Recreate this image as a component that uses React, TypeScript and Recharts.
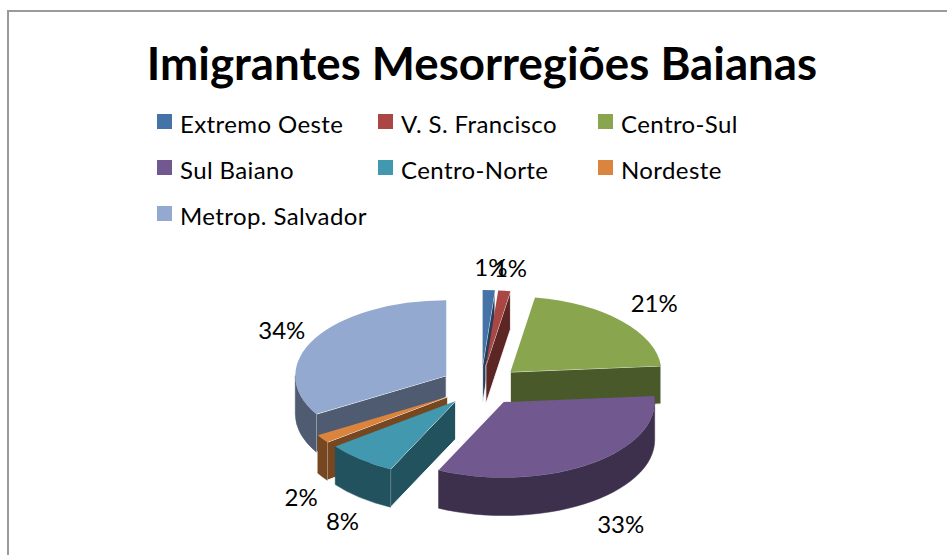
import React from "react";
import { PieChart, Pie, Legend } from "recharts";

const categories = ["Extremo Oeste", "V. S. Francisco", "Centro-Sul", "Sul Baiano", "Centro-Norte", "Nordeste", "Metrop. Salvador"];
const shares = [1.3, 1.3, 21.1, 33.4, 7.6, 1.8, 33.5];
const colors = ["#4572a7", "#aa4643", "#89a54e", "#71588f", "#4198af", "#db843d", "#93a9cf"];
// back-to-front paint order of the slices
const paintOrder = [6, 0, 1, 2, 5, 3, 4];
// hand placement of the percentage labels, as in the original chart
const labelNudgeX = [0, 0, -4, 3, 0, 2, -9];
const labelNudgeY = [-2, -2, -5, -3, 0, 2, 0];

const table = categories.map((name, i) => ({ name, value: shares[i], fill: colors[i] }));

const FONT = "Lato, 'Open Sans', sans-serif";
const SQUASH = 0.5;
const DEPTH = 38;
const EXPLODE = 40;

const shade = (hex: string, f = 0.54) => {
  const n = parseInt(hex.slice(1), 16);
  const c = [(n >> 16) & 255, (n >> 8) & 255, n & 255].map((v) => Math.round(v * f));
  return `rgb(${c[0]},${c[1]},${c[2]})`;
};
const rad = (d: number) => (d * Math.PI) / 180;
const at = (ax: number, ay: number, r: number, t: number) => [ax + r * Math.sin(rad(t)), ay - r * SQUASH * Math.cos(rad(t))];

const apexOf = (cx: number, cy: number, t0: number, t1: number) => at(cx, cy, EXPLODE, (t0 + t1) / 2);

function makeSlice(only: number) {
  return function Slice(props: any) {
    if (props.index !== only) return <g />;
    const { cx, cy, outerRadius: R, startAngle, endAngle, fill } = props;
    const t0 = 90 - startAngle;
    const t1 = 90 - endAngle;
    const [ax, ay] = apexOf(cx, cy, t0, t1);
    const [sx, sy] = at(ax, ay, R, t0);
    const [ex, ey] = at(ax, ay, R, t1);
    const dark = shade(fill);
    const ry = R * SQUASH;
    const large = t1 - t0 > 180 ? 1 : 0;
    const wall = (px: number, py: number) =>
      `M${ax},${ay} L${px},${py} L${px},${py + DEPTH} L${ax},${ay + DEPTH} Z`;
    const lo = Math.max(t0, 90);
    const hi = Math.min(t1, 270);
    let rim = null;
    if (hi > lo) {
      const [lx, ly] = at(ax, ay, R, lo);
      const [hx, hy] = at(ax, ay, R, hi);
      const d = `M${lx},${ly} A${R},${ry} 0 0 1 ${hx},${hy} L${hx},${hy + DEPTH} A${R},${ry} 0 0 0 ${lx},${ly + DEPTH} Z`;
      rim = <path d={d} fill={dark} stroke={dark} strokeWidth={0.5} />;
    }
    const startVisible = Math.sin(rad(t0)) < 0;
    const endVisible = Math.sin(rad(t1)) > 0;
    return (
      <g>
        {startVisible && <path d={wall(sx, sy)} fill={dark} stroke="#fff" strokeWidth={1} />}
        {endVisible && <path d={wall(ex, ey)} fill={dark} stroke="#fff" strokeWidth={0.8} />}
        {rim}
        <path d={`M${ax},${ay} L${sx},${sy} A${R},${ry} 0 ${large} 1 ${ex},${ey} Z`} fill={fill} />
      </g>
    );
  };
}

const renderLabel = (props: any) => {
  const { cx, cy, startAngle, endAngle, outerRadius: R, value, index } = props;
  const t0 = 90 - startAngle;
  const t1 = 90 - endAngle;
  const [ax, ay] = apexOf(cx, cy, t0, t1);
  const mid = (t0 + t1) / 2;
  const c = Math.cos(rad(mid));
  const s = Math.sin(rad(mid));
  const reach = R + (s < 0 ? 28 : 50);
  const x = ax + reach * s + labelNudgeX[index];
  const y = ay - (R + 49) * SQUASH * c + (c < 0 ? 42 : 3) + labelNudgeY[index];
  return (
    <text x={x} y={y} textAnchor="middle" dominantBaseline="central" fontFamily={FONT} fontSize={24} fill="#000">
      {`${Math.round(value)}%`}
    </text>
  );
};

const LegendGrid = () => (
  <div style={{ position: "absolute", left: 157, top: 100, display: "grid", gridTemplateColumns: "221px 220px 220px", gridAutoRows: "46px", fontFamily: FONT, fontSize: 24, letterSpacing: 0.4, color: "#000" }}>
    {table.map((p) => (
      <div key={p.name} style={{ display: "flex", alignItems: "center", whiteSpace: "nowrap" }}>
        <span style={{ width: 15, height: 15, background: p.fill, marginRight: 8, marginTop: -4 }} />
        {p.name}
      </div>
    ))}
  </div>
);

export default function App() {
  return (
    <div style={{ position: "absolute", left: 0, top: 0, width: 947, height: 555, overflow: "hidden", background: "#fff" }}>
      <div style={{ position: "absolute", left: 7, top: 10, width: 960, height: 560, border: "2px solid #9a9a9a" }} />
      <PieChart width={947} height={555} margin={{ top: 0, right: 0, bottom: 0, left: 0 }} style={{ position: "absolute", left: 0, top: 0 }}>
        <text x={482} y={62} textAnchor="middle" dominantBaseline="central" fontFamily={FONT} fontWeight={700} fontSize={45.7} fill="#000">
          Imigrantes Mesorregiões Baianas
        </text>
        <Legend layout="vertical" align="center" verticalAlign="middle" content={<LegendGrid />} wrapperStyle={{ position: "absolute", left: 0, top: 0, width: 0, height: 0 }} />
        {paintOrder.map((idx, n) => {
          const S = makeSlice(idx);
          return (
            <Pie
              key={idx}
              data={table}
              dataKey="value"
              nameKey="name"
              cx={481}
              cy={385.6}
              outerRadius={151}
              startAngle={90}
              endAngle={-270}
              stroke="none"
              shape={S}
              inactiveShape={S}
              isAnimationActive={false}
              legendType={n === 0 ? "square" : "none"}
              label={n === paintOrder.length - 1 ? renderLabel : false}
              labelLine={false}
            />
          );
        })}
      </PieChart>
    </div>
  );
}
